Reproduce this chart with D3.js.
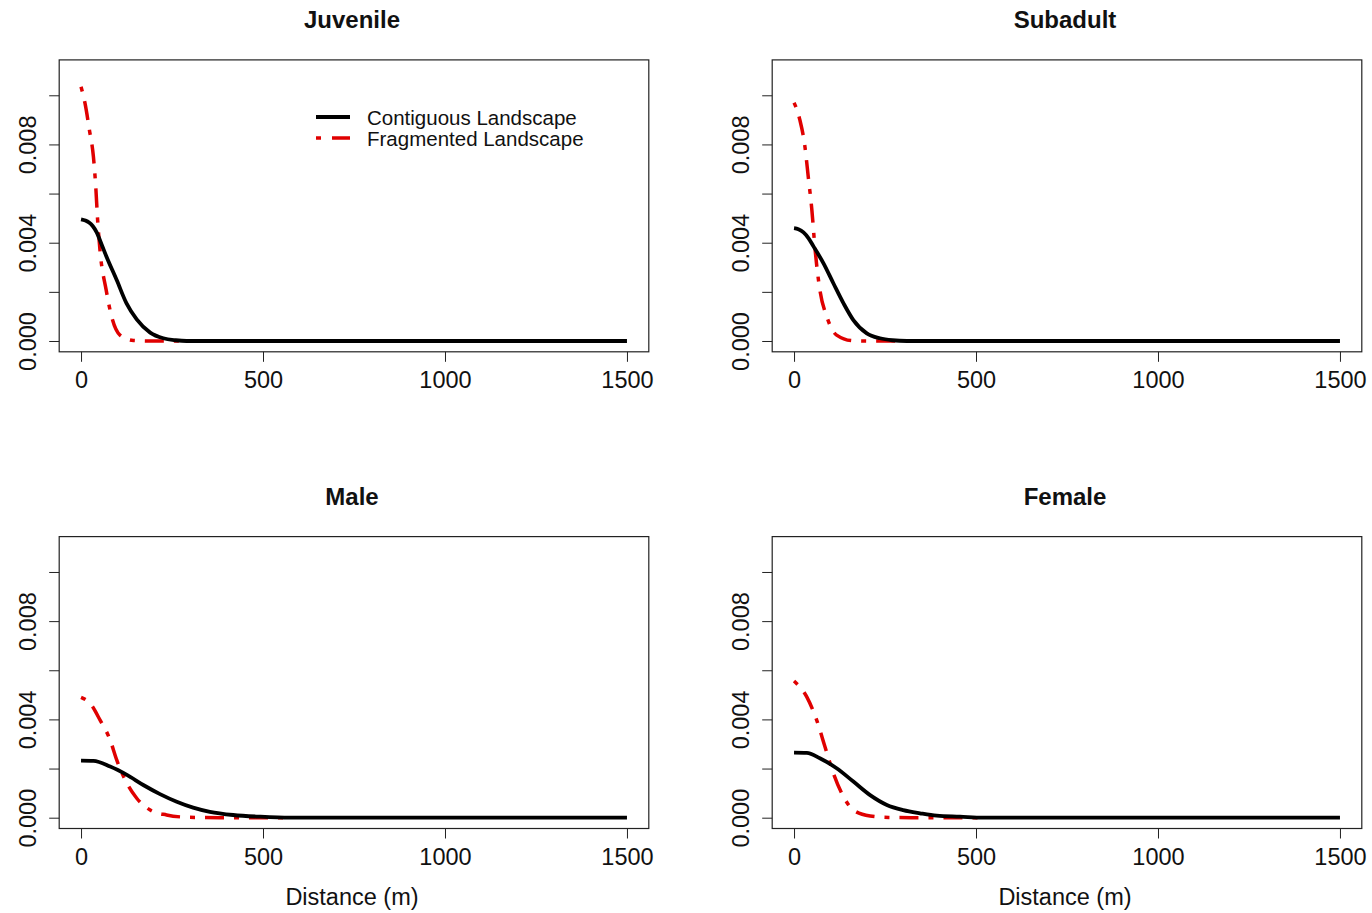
<!DOCTYPE html>
<html><head><meta charset="utf-8">
<script src="https://cdn.jsdelivr.net/npm/d3@7"></script>
<style>body{margin:0;background:#fff;} svg{display:block;} text{font-family:"Liberation Sans",Arial,sans-serif;fill:#111;}</style>
</head><body>
<svg id="chart" width="1372" height="913"></svg>
<script>
// ---- data ----
const panelTitles = ["Juvenile", "Subadult", "Male", "Female"];
const xTicks = [0, 500, 1000, 1500];
const yTicks = [0, 0.002, 0.004, 0.006, 0.008, 0.010];
const yTickLabels = ["0.000", "", "0.004", "", "0.008", ""];
const legendLabels = ["Contiguous Landscape", "Fragmented Landscape"];
const xLabel = "Distance (m)";

const juvContDist = [0, 12, 22, 32, 43, 56, 70, 98, 125, 153, 190, 226, 260, 290, 600, 1000, 1500];
const juvContVal  = [0.00495, 0.0049, 0.00482, 0.00468, 0.00442, 0.00395, 0.00343, 0.00248, 0.00153, 0.00088, 0.00034, 0.00011, 0.00003, 0, 0, 0, 0];
const juvFragDist = [0, 11, 23, 34, 41, 45, 52, 69, 84, 107, 144, 200, 290];
const juvFragVal  = [0.01035, 0.00967, 0.00859, 0.0075, 0.00614, 0.00506, 0.0037, 0.00208, 0.00099, 0.00024, 0.00002, 0, 0];

const subContDist = [0, 12, 26, 40, 53, 81, 108, 136, 163, 200, 236, 270, 310, 600, 1000, 1500];
const subContVal  = [0.00459, 0.00455, 0.00442, 0.00418, 0.00386, 0.00316, 0.00235, 0.00153, 0.00085, 0.00031, 0.00011, 0.00003, 0, 0, 0, 0];
const subFragDist = [0, 3, 16, 30, 39, 49, 58, 71, 90, 117, 163, 220, 282];
const subFragVal  = [0.0097, 0.0096, 0.009, 0.0079, 0.00669, 0.00533, 0.0037, 0.00208, 0.00099, 0.00024, 0.00001, 0, 0];

const maleContDist = [0, 34, 80, 126, 171, 217, 263, 308, 354, 418, 492, 574, 1000, 1500];
const maleContVal  = [0.00232, 0.00231, 0.00208, 0.00174, 0.00133, 0.00096, 0.00065, 0.00041, 0.00024, 0.00011, 0.00004, 0, 0, 0];
const maleFragDist = [0, 25, 52, 80, 98, 126, 153, 190, 235, 290, 400, 574];
const maleFragVal  = [0.0049, 0.00465, 0.00398, 0.00316, 0.00235, 0.0014, 0.00079, 0.00031, 0.00011, 0.00002, 0, 0];

const femContDist = [0, 35, 71, 117, 163, 209, 255, 300, 346, 392, 456, 520, 1000, 1500];
const femContVal  = [0.00265, 0.00264, 0.00242, 0.00201, 0.00147, 0.00092, 0.00052, 0.00031, 0.00018, 0.00008, 0.00004, 0, 0, 0];
const femFragDist = [0, 35, 62, 85, 108, 136, 163, 209, 260, 350, 520];
const femFragVal  = [0.00556, 0.00492, 0.00398, 0.00289, 0.00181, 0.00085, 0.00031, 0.00007, 0.00001, 0, 0];

const panelData = [
  [juvContDist, juvContVal, juvFragDist, juvFragVal],
  [subContDist, subContVal, subFragDist, subFragVal],
  [maleContDist, maleContVal, maleFragDist, maleFragVal],
  [femContDist, femContVal, femFragDist, femFragVal]
];

// ---- layout ----
const svg = d3.select("#chart");
const pw = 589.6, ph = 291.9;
const origins = [[59.2, 59.9], [772.2, 59.9], [59.2, 536.6], [772.2, 536.6]];
const x = d3.scaleLinear().domain([-60, 1560]).range([0, pw]);
const y = d3.scaleLinear().domain([-0.00044, 0.01144]).range([ph, 0]);
const line = d3.line().x(d => x(d[0])).y(d => y(d[1])).curve(d3.curveMonotoneX);
const contColor = "#000", fragColor = "#e00000";
const dash = "5,10,19,10";

panelTitles.forEach((title, i) => {
  const [ox, oy] = origins[i];
  const g = svg.append("g").attr("transform", `translate(${ox},${oy})`);
  const [cd, cv, fd, fv] = panelData[i];

  // x axis
  const xa = g.append("g").attr("transform", `translate(0,${ph})`)
    .call(d3.axisBottom(x).tickValues(xTicks).tickSize(10).tickFormat(d3.format("d")));
  xa.select(".domain").remove();
  xa.selectAll("line").attr("stroke", "#222").attr("stroke-width", 1);
  xa.selectAll("text").attr("y", 36.2).attr("dy", 0).attr("font-size", 23.5)
    .attr("font-family", '"Liberation Sans",Arial,sans-serif').attr("fill", "#111");

  // y axis
  const ya = g.append("g")
    .call(d3.axisLeft(y).tickValues(yTicks).tickSize(10).tickFormat((d, k) => yTickLabels[k]));
  ya.select(".domain").remove();
  ya.selectAll("line").attr("stroke", "#222").attr("stroke-width", 1);
  ya.selectAll("text").attr("x", 0).attr("y", 0).attr("dy", 0)
    .attr("transform", "translate(-23,0) rotate(-90)")
    .attr("text-anchor", "middle").attr("font-size", 23.5)
    .attr("font-family", '"Liberation Sans",Arial,sans-serif').attr("fill", "#111");

  // lines
  g.append("path").datum(d3.zip(fd, fv)).attr("d", line).attr("fill", "none")
    .attr("stroke", fragColor).attr("stroke-width", 3.5).attr("stroke-dasharray", dash);
  g.append("path").datum(d3.zip(cd, cv)).attr("d", line).attr("fill", "none")
    .attr("stroke", contColor).attr("stroke-width", 3.8).attr("stroke-linejoin", "round");

  // box
  g.append("rect").attr("x", 0).attr("y", 0).attr("width", pw).attr("height", ph)
    .attr("fill", "none").attr("stroke", "#222").attr("stroke-width", 1.2);

  // title
  g.append("text").attr("x", pw / 2 - 2).attr("y", -31.6).attr("text-anchor", "middle")
    .attr("font-size", 24).attr("font-weight", "bold").text(title);

  // x label on bottom panels
  if (i >= 2) {
    g.append("text").attr("x", pw / 2 - 2).attr("y", ph + 76.5).attr("text-anchor", "middle")
      .attr("font-size", 23.5).text(xLabel);
  }

  // legend in first panel
  if (i === 0) {
    const lg = g.append("g").attr("transform", "translate(256.8,57.1)");
    lg.append("line").attr("x1", 0).attr("x2", 34).attr("y1", 0).attr("y2", 0)
      .attr("stroke", contColor).attr("stroke-width", 3.8);
    lg.append("line").attr("x1", 0).attr("x2", 34).attr("y1", 21).attr("y2", 21)
      .attr("stroke", fragColor).attr("stroke-width", 3.5).attr("stroke-dasharray", "5,11,18,10");
    legendLabels.forEach((t, k) => {
      lg.append("text").attr("x", 51).attr("y", 7.5 + 21 * k).attr("font-size", 20.5)
        .attr("fill", "#222").text(t);
    });
  }
});
</script>
</body></html>
